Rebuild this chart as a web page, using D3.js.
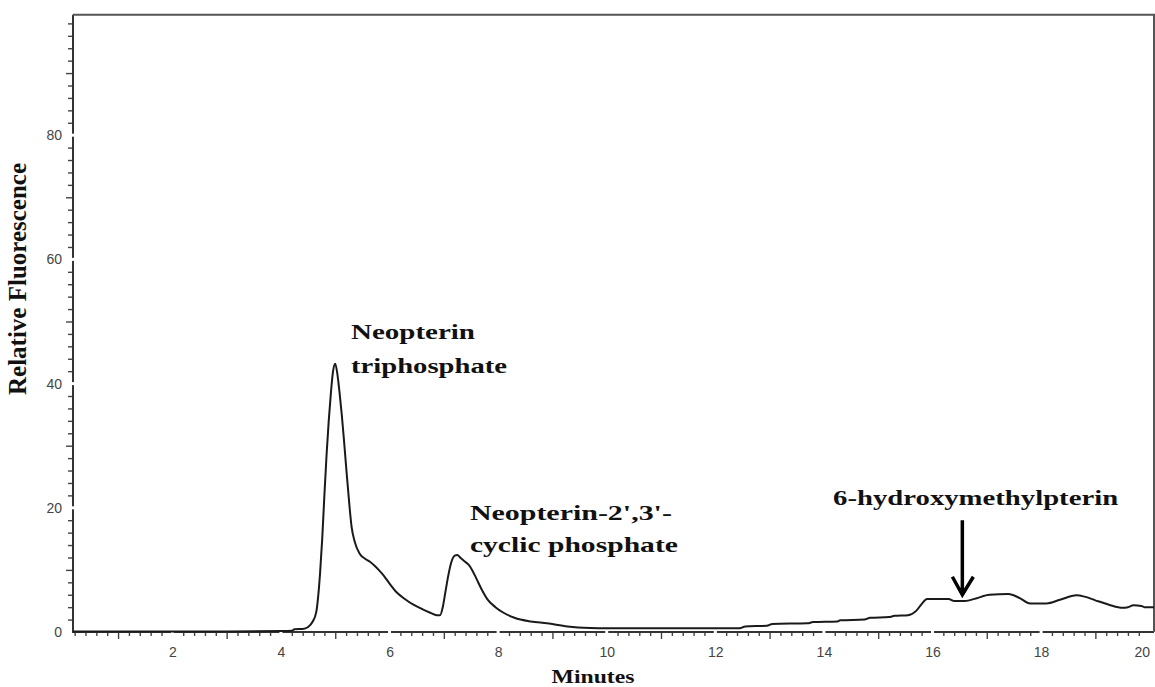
<!DOCTYPE html>
<meta charset="utf-8">
<style>
body { margin: 0; background: #fff; }
.tick text { font: 14px "Liberation Sans", Arial, sans-serif; fill: #444; }
.tick line { stroke: #444; stroke-width: 1.4; }
.titles { font-family: "Liberation Serif", "Times New Roman", serif; font-weight: bold; fill: #111; }
</style>
<body>
<script src="https://cdn.jsdelivr.net/npm/d3@7"></script>
<script>

// chromatogram trace (minutes, relative fluorescence)
var minutes = [0.17, 0.5, 1.0, 2.0, 3.0, 4.0, 4.2, 4.25, 4.4, 4.5, 4.58, 4.65, 4.72, 4.76, 4.8, 4.84, 4.88, 4.92, 4.96, 5.0,
  5.04, 5.08, 5.12, 5.16, 5.21, 5.26, 5.3, 5.36, 5.45, 5.55, 5.64, 5.72, 5.8, 5.9, 6.0, 6.13, 6.3, 6.44, 6.6, 6.75, 6.87, 6.93,
  6.98, 7.03, 7.08, 7.13, 7.2, 7.25, 7.3, 7.38, 7.46, 7.52, 7.6, 7.7, 7.8, 7.95, 8.1, 8.3, 8.6, 8.9, 9.28, 9.7, 10.0, 11.0,
  12.45, 12.55, 12.95, 13.05, 13.7, 13.8, 14.25, 14.3, 14.75, 14.85, 15.2, 15.3, 15.55, 15.7, 15.8, 15.9, 16.3, 16.4, 16.6,
  16.8, 17.05, 17.4, 17.6, 17.8, 18.1, 18.35, 18.65, 18.8, 19.0, 19.25, 19.5, 19.6, 19.7, 19.85, 19.9, 20.08];
var fluorescence = [0.1, 0.1, 0.1, 0.1, 0.1, 0.15, 0.2, 0.45, 0.5, 0.8, 1.6, 3.2, 9.4, 15, 22, 28.5, 34, 38.5, 42, 43.2,
  41.5, 38.5, 35, 31, 25.6, 20.5, 17, 14.5, 12.6, 11.8, 11.3, 10.7, 10, 9, 7.8, 6.4, 5.2, 4.4, 3.7, 3.1, 2.7, 2.7,
  4.0, 6.5, 9.0, 11, 12.3, 12.4, 12.0, 11.4, 10.8, 10.0, 8.6, 6.8, 5.3, 4.0, 3.1, 2.3, 1.7, 1.4, 0.9, 0.65, 0.6, 0.6,
  0.6, 0.9, 1.0, 1.3, 1.4, 1.6, 1.7, 1.9, 2.0, 2.3, 2.4, 2.6, 2.7, 3.4, 4.5, 5.3, 5.3, 5.0, 5.0,
  5.4, 6.0, 6.1, 5.5, 4.6, 4.6, 5.2, 5.9, 5.7, 5.1, 4.4, 3.9, 4.0, 4.3, 4.2, 4.0, 4.0];

var xLabelTicks = [2, 4, 6, 8, 10, 12, 14, 16, 18, 20];
var yLabelTicks = [0, 20, 40, 60, 80];

// peak labels: text, minutes, fluorescence of baseline
var peakNames = ["Neopterin", "triphosphate", "Neopterin-2',3'-", "cyclic phosphate", "6-hydroxymethylpterin"];
var peakNameX = [5.29, 5.29, 7.48, 7.48, 14.17];
var peakNameY = [47.1, 41.7, 18.0, 12.9, 20.45];
var peakNameWidth = [124, 156, 202, 208, 285];
// arrow pointing at 6-hydroxymethylpterin
var arrowAt = {x: 16.55, from: 18.0, to: 6.0};

var width = 1155, height = 687;
var plot = {left: 73, right: 1154, top: 14.7, bottom: 632};

var svg = d3.select("body").append("svg")
    .attr("width", width)
    .attr("height", height);

var x = d3.scaleLinear().domain([0.17, 20.08]).range([plot.left, plot.right]);
var y = d3.scaleLinear().domain([0, 99.4]).range([plot.bottom, plot.top]);

// x axis ticks: minor every 0.2, medium every 1, labelled every 2
var xMinor = d3.range(1, 101).map(function(i) { return i / 5; })
    .filter(function(d) { return Math.abs(d - Math.round(d)) > 1e-6; });
var xMid = d3.range(1, 20, 2);

function addAxis(axis, tr) {
  var g = svg.append("g").attr("transform", tr).call(axis);
  g.select(".domain").remove();
  return g;
}

addAxis(d3.axisBottom(x).tickValues(xMinor).tickSize(4).tickFormat(""), "translate(0," + plot.bottom + ")");
addAxis(d3.axisBottom(x).tickValues(xMid).tickSize(7).tickFormat(""), "translate(0," + plot.bottom + ")");
var xLab = addAxis(d3.axisBottom(x).tickValues(xLabelTicks).tickSize(0).tickPadding(15).tickFormat(d3.format("d")), "translate(0," + plot.bottom + ")");
// last label sits right on the page edge
xLab.selectAll(".tick text").filter(function(d) { return d === 20; })
    .attr("text-anchor", "end");

var yMinor = d3.range(2, 99, 2).filter(function(d) { return d % 10 !== 0; });
var yMid = [10, 30, 50, 70, 90];
addAxis(d3.axisLeft(y).tickValues(yMinor).tickSize(5).tickFormat(""), "translate(" + plot.left + ",0)");
addAxis(d3.axisLeft(y).tickValues(yMid).tickSize(7).tickFormat(""), "translate(" + plot.left + ",0)");
addAxis(d3.axisLeft(y).tickValues(yLabelTicks).tickSize(0).tickPadding(11).tickFormat(d3.format("d")), "translate(" + plot.left + ",0)");

// frame
svg.append("path")
    .attr("d", "M" + plot.left + "," + plot.top + "V" + plot.bottom + "H" + plot.right)
    .attr("fill", "none").attr("stroke", "#333").attr("stroke-width", 2);
svg.append("path")
    .attr("d", "M" + plot.left + "," + plot.top + "H" + plot.right + "V" + plot.bottom)
    .attr("fill", "none").attr("stroke", "#555").attr("stroke-width", 2);

// small white breaks in the axis lines at labelled ticks
svg.selectAll(".xgap").data(xLabelTicks.slice(0, -1)).enter().append("rect")
    .attr("x", function(d) { return x(d) - 1.5; }).attr("y", plot.bottom - 1.5)
    .attr("width", 3).attr("height", 3).attr("fill", "#fff");
svg.selectAll(".ygap").data(yLabelTicks.slice(1)).enter().append("rect")
    .attr("x", plot.left - 1.5).attr("y", function(d) { return y(d) - 1.5; })
    .attr("width", 3).attr("height", 3).attr("fill", "#fff");

// trace
var pts = minutes.map(function(m, i) { return [m, fluorescence[i]]; });
var line = d3.line()
    .x(function(d) { return x(d[0]); })
    .y(function(d) { return y(d[1]); })
    .curve(d3.curveMonotoneX);

svg.append("path")
    .datum(pts)
    .attr("d", line)
    .attr("fill", "none")
    .attr("stroke", "#1a1a1a")
    .attr("stroke-width", 2)
    .attr("stroke-linejoin", "round");

// peak labels
svg.selectAll(".peak").data(peakNames).enter().append("text")
    .attr("class", "titles")
    .attr("x", function(d, i) { return x(peakNameX[i]); })
    .attr("y", function(d, i) { return y(peakNameY[i]); })
    .attr("font-size", 22)
    .attr("textLength", function(d, i) { return peakNameWidth[i]; })
    .attr("lengthAdjust", "spacingAndGlyphs")
    .text(function(d) { return d; });

// arrow
var ax = x(arrowAt.x), ay0 = y(arrowAt.from), ay1 = y(arrowAt.to);
svg.append("path")
    .attr("d", "M" + ax + "," + ay0 + "V" + (ay1 - 1) +
               "M" + (ax - 10) + "," + (ay1 - 18) + "L" + ax + "," + ay1 + "L" + (ax + 11) + "," + (ay1 - 18))
    .attr("fill", "none")
    .attr("stroke", "#000")
    .attr("stroke-width", 3.5)
    .attr("stroke-linejoin", "miter");

// axis titles
svg.append("text")
    .attr("class", "titles")
    .attr("x", 593).attr("y", 683)
    .attr("font-size", 19)
    .attr("text-anchor", "middle")
    .attr("textLength", 83)
    .attr("lengthAdjust", "spacingAndGlyphs")
    .text("Minutes");

svg.append("text")
    .attr("class", "titles")
    .attr("transform", "translate(26,279) rotate(-90)")
    .attr("font-size", 25)
    .attr("text-anchor", "middle")
    .attr("textLength", 232)
    .attr("lengthAdjust", "spacingAndGlyphs")
    .text("Relative Fluorescence");
</script>
</body>
